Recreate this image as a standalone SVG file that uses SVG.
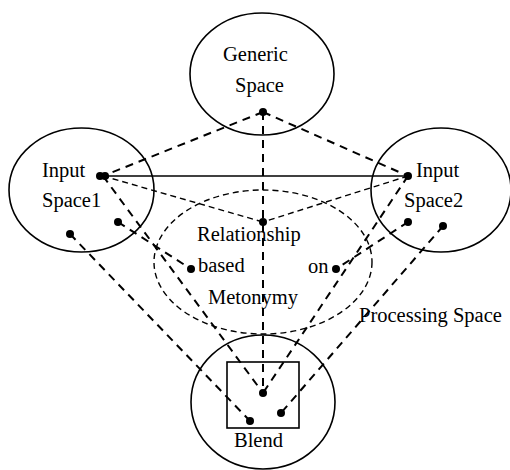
<svg xmlns="http://www.w3.org/2000/svg" width="510" height="470" viewBox="0 0 510 470">
<style>
.sp{fill:none;stroke:#000;stroke-width:1.6}
.th{fill:none;stroke:#000;stroke-width:2;stroke-dasharray:8 6}
.tn{fill:none;stroke:#000;stroke-width:1.4;stroke-dasharray:6 4}
.ln{fill:none;stroke:#000;stroke-width:1.3}
.d{fill:#000}
.t{font-family:'Liberation Serif','Times New Roman',Tinos,'DejaVu Serif',serif;font-size:20.5px;fill:#000}
</style>
<rect width="510" height="470" fill="#fff"/>
<g id="connectors">
<line class="ln" x1="103" y1="176" x2="408" y2="176"/>
<line class="th" x1="263" y1="112" x2="103" y2="176"/>
<line class="th" x1="263" y1="112" x2="408" y2="176"/>
<line class="th" x1="263" y1="112" x2="263" y2="393"/>
<line class="tn" x1="103" y1="176" x2="263" y2="222"/>
<line class="tn" x1="408" y1="176" x2="263" y2="222"/>
<line class="th" x1="103" y1="176" x2="263" y2="393"/>
<line class="th" x1="408" y1="176" x2="263" y2="393"/>
<line class="th" x1="118" y1="222" x2="191" y2="269"/>
<line class="th" x1="408" y1="222" x2="336" y2="269"/>
<line class="th" x1="70" y1="234" x2="250" y2="421"/>
<line class="th" x1="443" y1="226" x2="281" y2="413"/>
</g>
<g id="generic-space">
<ellipse class="sp" cx="262" cy="74" rx="72" ry="61"/>
<text class="t" x="223" y="61">Generic</text>
<text class="t" x="235" y="92">Space</text>
<circle class="d" cx="263" cy="112" r="4"/>
</g>
<g id="input-space1">
<ellipse class="sp" cx="81.5" cy="190" rx="72.5" ry="62"/>
<text class="t" x="42" y="177">Input</text>
<text class="t" x="42" y="207">Space1</text>
<circle class="d" cx="100" cy="176" r="4"/>
<circle class="d" cx="105" cy="176" r="4"/>
<circle class="d" cx="118" cy="222" r="4"/>
<circle class="d" cx="70" cy="234" r="4"/>
</g>
<g id="input-space2">
<ellipse class="sp" cx="441" cy="190" rx="70" ry="62"/>
<text class="t" x="416" y="177">Input</text>
<text class="t" x="404" y="207">Space2</text>
<circle class="d" cx="408" cy="176" r="4"/>
<circle class="d" cx="408" cy="222" r="4"/>
<circle class="d" cx="443" cy="226" r="4"/>
</g>
<g id="processing-space">
<ellipse class="tn" cx="263" cy="262" rx="109" ry="72"/>
<text class="t" x="197" y="241">Relationship</text>
<text class="t" x="198" y="272">based</text>
<text class="t" x="308" y="273">on</text>
<text class="t" x="208" y="304">Metonymy</text>
<text class="t" x="359" y="322">Processing Space</text>
<circle class="d" cx="263" cy="222" r="4"/>
<circle class="d" cx="191" cy="269" r="4"/>
<circle class="d" cx="336" cy="269" r="4"/>
</g>
<g id="blend">
<ellipse class="sp" cx="263" cy="402" rx="72" ry="67"/>
<rect class="sp" x="227" y="362" width="72" height="66"/>
<text class="t" x="234" y="447">Blend</text>
<circle class="d" cx="263" cy="393" r="4"/>
<circle class="d" cx="250" cy="421" r="4"/>
<circle class="d" cx="281" cy="413" r="4"/>
</g>
</svg>
